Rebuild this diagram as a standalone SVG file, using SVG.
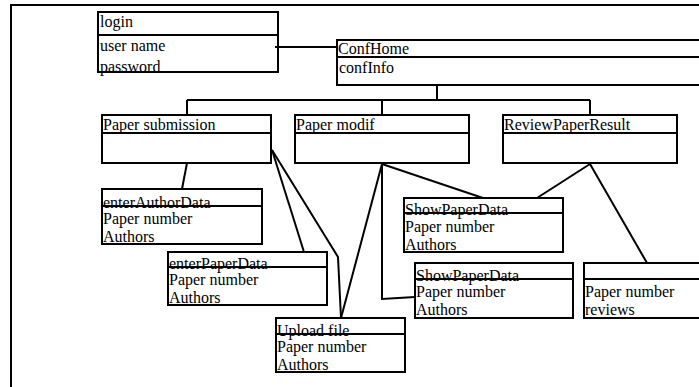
<svg xmlns="http://www.w3.org/2000/svg" width="699" height="387" viewBox="0 0 699 387">
<style>
text{font-family:"Liberation Serif","Times New Roman",serif;font-size:16px;fill:#000}
.b{fill:none;stroke:#000;stroke-width:2}
.c{fill:none;stroke:#000;stroke-width:2;stroke-linejoin:miter}
.f{fill:none;stroke:#000;stroke-width:2}
</style>
<rect width="699" height="387" fill="#fff"/>
<path class="f" d="M11,387 V5 H699"/>
<g id="connectors">
<path class="c" d="M275,47 H338"/>
<path class="c" d="M437,85 V100 M187,100 H590 M187,100 V115 M382,100 V115 M590,100 V115"/>
<path class="c" d="M187,163 L182,189"/>
<path class="c" d="M272,150 L304,252"/>
<path class="c" d="M272,150 L338,257 L341,318"/>
<path class="c" d="M382,164 L341,318"/>
<path class="c" d="M382,164 V299 L415,297"/>
<path class="c" d="M382,164 L483,198"/>
<path class="c" d="M590,164 L537,198"/>
<path class="c" d="M590,164 L647,263"/>
</g>
<g id="login">
<text x="100" y="27">login</text>
<text x="100" y="51">user name</text>
<text x="100" y="72">password</text>
<rect class="b" x="98" y="12" width="180" height="60"/>
<line class="b" x1="98" y1="35" x2="278" y2="35"/>
</g>
<g id="confhome">
<text x="338" y="54">ConfHome</text>
<text x="339" y="73">confInfo</text>
<rect class="b" x="337" y="40" width="370" height="45"/>
<line class="b" x1="337" y1="57" x2="707" y2="57"/>
</g>
<g id="papersubmission">
<text x="103" y="130">Paper submission</text>
<rect class="b" x="102" y="115" width="169" height="48"/>
<line class="b" x1="102" y1="133" x2="271" y2="133"/>
</g>
<g id="papermodif">
<text x="296" y="130">Paper modif</text>
<rect class="b" x="295" y="115" width="174" height="48"/>
<line class="b" x1="295" y1="133" x2="469" y2="133"/>
</g>
<g id="reviewpaperresult">
<text x="504" y="130">ReviewPaperResult</text>
<rect class="b" x="503" y="115" width="174" height="48"/>
<line class="b" x1="503" y1="133" x2="677" y2="133"/>
</g>
<g id="enterauthordata">
<text x="103" y="208">enterAuthorData</text>
<text x="103" y="224">Paper number</text>
<text x="103" y="242">Authors</text>
<rect class="b" x="102" y="189" width="160" height="55"/>
<line class="b" x1="102" y1="206" x2="262" y2="206"/>
</g>
<g id="enterpaperdata">
<text x="169" y="269">enterPaperData</text>
<text x="169" y="285">Paper number</text>
<text x="169" y="303">Authors</text>
<rect class="b" x="168" y="252" width="159" height="53"/>
<line class="b" x1="168" y1="267" x2="327" y2="267"/>
</g>
<g id="uploadfile">
<text x="277" y="336">Upload file</text>
<text x="277" y="352">Paper number</text>
<text x="277" y="370">Authors</text>
<rect class="b" x="276" y="318" width="129" height="54"/>
<line class="b" x1="276" y1="334" x2="405" y2="334"/>
</g>
<g id="showpaperdata1">
<text x="405" y="215">ShowPaperData</text>
<text x="405" y="232">Paper number</text>
<text x="405" y="250">Authors</text>
<rect class="b" x="404" y="198" width="159" height="54"/>
<line class="b" x1="404" y1="213" x2="563" y2="213"/>
</g>
<g id="showpaperdata2">
<text x="416" y="281">ShowPaperData</text>
<text x="416" y="297">Paper number</text>
<text x="416" y="315">Authors</text>
<rect class="b" x="415" y="263" width="158" height="55"/>
<line class="b" x1="415" y1="279" x2="573" y2="279"/>
</g>
<g id="reviews">
<text x="585" y="297">Paper number</text>
<text x="585" y="315">reviews</text>
<rect class="b" x="584" y="263" width="130" height="55"/>
<line class="b" x1="584" y1="279" x2="714" y2="279"/>
</g>
</svg>
